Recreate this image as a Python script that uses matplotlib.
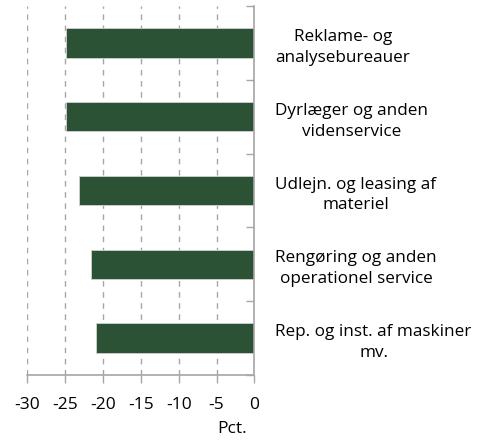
import matplotlib.pyplot as plt

plt.rcParams['font.family'] = ['Open Sans', 'DejaVu Sans']

categories = ["Reklame- og\nanalysebureauer",
              "Dyrlæger og anden\nvidenservice",
              "Udlejn. og leasing af\nmateriel",
              "Rengøring og anden\noperationel service",
              "Rep. og inst. af maskiner\nmv."]
values = [-24.9, -24.9, -23.1, -21.5, -20.9]
xticks = [-30, -25, -20, -15, -10, -5, 0]

fig = plt.figure(figsize=(4.88, 4.48), dpi=100)
ax = fig.add_axes([27 / 488, 1 - 375 / 448, 227.5 / 488, 369 / 448])

pos = list(range(len(categories)))
ax.barh(pos, values, height=0.4, color='#2b5234', edgecolor='#d0d0d0',
        linewidth=0.6, zorder=3)

ax.set_xlim(-30, 0)
ax.set_ylim(len(categories) - 0.5, -0.5)
ax.set_xticks(xticks)
ax.set_xticklabels([str(v) for v in xticks], fontsize=12.5)
ax.xaxis.grid(True, color='#a6a6a6', linestyle=(0, (4, 4)), linewidth=1.0, zorder=0)

# category labels on the right side
ax.yaxis.tick_right()
ax.set_yticks([p + 0.5 for p in pos[:-1]] + [-0.5, len(categories) - 0.5])
ax.set_yticklabels([])
ax.set_yticks(pos, minor=True)
ax.set_yticklabels(categories, minor=True, fontsize=12.3, ha='left',
                   multialignment='center', linespacing=1.4)
ax.tick_params(axis='y', which='major', direction='in', length=6,
               color='#a6a6a6', width=1)
ax.tick_params(axis='y', which='minor', length=0, pad=15)
ax.tick_params(axis='x', direction='out', length=6, color='#a6a6a6',
               width=1, pad=10)

for s in ['top', 'left']:
    ax.spines[s].set_visible(False)
for s in ['bottom', 'right']:
    ax.spines[s].set_color('#a6a6a6')
    ax.spines[s].set_linewidth(1.2)
    ax.spines[s].set_zorder(4)

ax.set_xlabel('Pct.', fontsize=12.5)
ax.xaxis.set_label_coords(0.9, -0.125)

fig.savefig('out.png', dpi=100)
